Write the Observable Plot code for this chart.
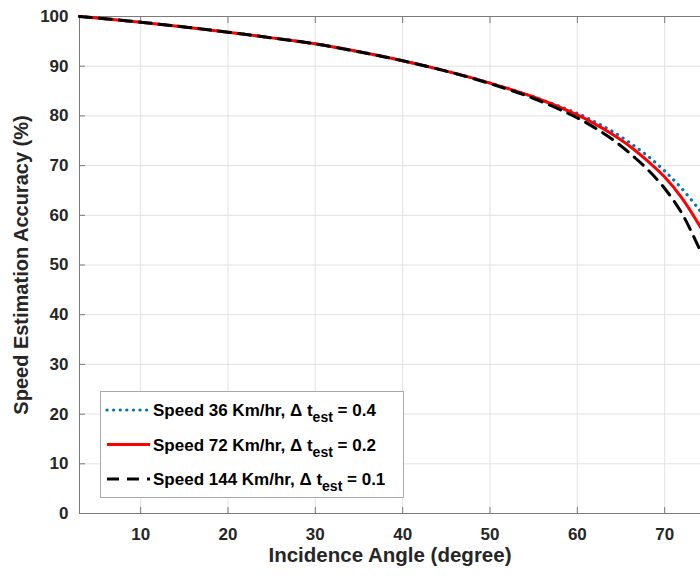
<!DOCTYPE html>
<html>
<head>
<meta charset="utf-8">
<script src="https://cdn.jsdelivr.net/npm/d3@7"></script>
<script src="https://cdn.jsdelivr.net/npm/@observablehq/plot@0.6"></script>
<style>
  html, body { margin: 0; padding: 0; background: #fff; }
  #chart { width: 700px; height: 577px; overflow: hidden; }
</style>
</head>
<body>
<div id="chart"></div>
<script>
// ---- data ----
const angles = [3, 5, 10, 15, 20, 25, 30, 35, 40, 45, 50, 55, 60, 62, 64, 66, 68, 70, 72, 74.1];
const acc36  = [100, 99.7, 98.85, 97.9, 96.85, 95.7, 94.5, 92.9, 91.1, 89.0, 86.6, 83.8, 80.5, 78.8, 76.9, 74.6, 72.0, 68.9, 65.3, 60.8];
const acc72  = [100, 99.7, 98.85, 97.9, 96.85, 95.7, 94.5, 92.9, 91.1, 89.0, 86.6, 83.8, 80.2, 78.4, 76.3, 73.9, 71.0, 67.7, 63.4, 57.6];
const acc144 = [100, 99.7, 98.85, 97.9, 96.85, 95.7, 94.5, 92.9, 91.1, 89.0, 86.5, 83.5, 79.6, 77.6, 75.3, 72.5, 69.3, 65.4, 60.3, 52.8];
const seriesLabels = [
  ["Speed 36 Km/hr, \u0394 t", "est", " = 0.4"],
  ["Speed 72 Km/hr, \u0394 t", "est", " = 0.2"],
  ["Speed 144 Km/hr, \u0394 t", "est", " = 0.1"]
];
const xTicks = [10, 20, 30, 40, 50, 60, 70];
const yTicks = [0, 10, 20, 30, 40, 50, 60, 70, 80, 90, 100];
const xTitle = "Incidence Angle (degree)";
const yTitle = "Speed Estimation Accuracy (%)";

const toRows = (vals) => angles.map((a, i) => ({angle: a, value: vals[i]}));
const rows36 = toRows(acc36), rows72 = toRows(acc72), rows144 = toRows(acc144);

const FONT = "'Liberation Sans', Arial, Helvetica, sans-serif";
const TXT = "#262626";
const AX = "#7a7a7a";
const GRID = "#e2e2e2";

const styles = [
  {stroke: "#0072BD", strokeWidth: 3.2, strokeDasharray: "0.1,6.5", strokeLinecap: "round"},
  {stroke: "#ff0000", strokeWidth: 3},
  {stroke: "#000000", strokeWidth: 3, strokeDasharray: "12,8"}
];

const chart = Plot.plot({
  width: 700,
  height: 577,
  marginTop: 16,
  marginBottom: 64,
  marginLeft: 79,
  marginRight: 0,
  style: {fontFamily: FONT, fontSize: "17px", fontWeight: "bold", color: TXT, background: "#fff"},
  x: {domain: [3, 74.1]},
  y: {domain: [0, 100]},
  marks: [
    Plot.gridX(xTicks, {stroke: GRID, strokeOpacity: 1}),
    Plot.gridY(yTicks, {stroke: GRID, strokeOpacity: 1}),
    Plot.axisX(xTicks, {anchor: "bottom", tickSize: 0, tickPadding: 14, fill: TXT, label: null, fontSize: 17}),
    Plot.axisY(yTicks, {anchor: "left", tickSize: 0, tickPadding: 11, fill: TXT, label: null, fontSize: 17}),
    Plot.axisX(xTicks, {anchor: "bottom", tickSize: -6, text: null, stroke: AX, label: null}),
    Plot.axisX(xTicks, {anchor: "top", tickSize: -6, text: null, stroke: AX, label: null}),
    Plot.axisY(yTicks, {anchor: "left", tickSize: -6, text: null, stroke: AX, label: null}),
    Plot.ruleY([0, 100], {stroke: AX}),
    Plot.ruleX([3], {stroke: AX}),
    Plot.line(rows36, {x: "angle", y: "value", curve: "catmull-rom", ...styles[0]}),
    Plot.line(rows72, {x: "angle", y: "value", curve: "catmull-rom", ...styles[1]}),
    Plot.line(rows144, {x: "angle", y: "value", curve: "catmull-rom", ...styles[2]}),
    Plot.text([xTitle], {frameAnchor: "bottom", dy: 42, fontSize: 20.5, fontWeight: "bold", fill: TXT, lineAnchor: "middle"}),
    Plot.text([yTitle], {frameAnchor: "left", dx: -58, rotate: -90, fontSize: 20, fontWeight: "bold", fill: TXT, lineAnchor: "middle", textAnchor: "middle"})
  ]
});

// ---- legend (inside the axes, lower left) ----
const svg = d3.select(chart);
const lg = svg.append("g").attr("font-family", FONT).attr("font-weight", "bold").attr("fill", "#000")
  .attr("text-anchor", "start");
lg.append("rect").attr("x", 100.5).attr("y", 391.5).attr("width", 303).attr("height", 106)
  .attr("fill", "#fff").attr("stroke", "#a8a8a8").attr("stroke-width", 1);
seriesLabels.forEach((parts, i) => {
  const cy = 410 + i * 34.5;
  const s = styles[i];
  const ln = lg.append("line").attr("x1", 107).attr("x2", 150).attr("y1", cy).attr("y2", cy)
    .attr("stroke", s.stroke).attr("stroke-width", s.strokeWidth);
  if (s.strokeDasharray) ln.attr("stroke-dasharray", s.strokeDasharray);
  if (s.strokeLinecap) ln.attr("stroke-linecap", s.strokeLinecap);
  const t = lg.append("text").attr("x", 153).attr("y", cy + 6).attr("font-size", 17).attr("text-anchor", "start");
  t.append("tspan").text(parts[0]);
  t.append("tspan").attr("font-size", 14).attr("dy", 6).text(parts[1]);
  t.append("tspan").attr("dy", -6).text(parts[2]);
});

document.getElementById("chart").appendChild(chart);
</script>
</body>
</html>
